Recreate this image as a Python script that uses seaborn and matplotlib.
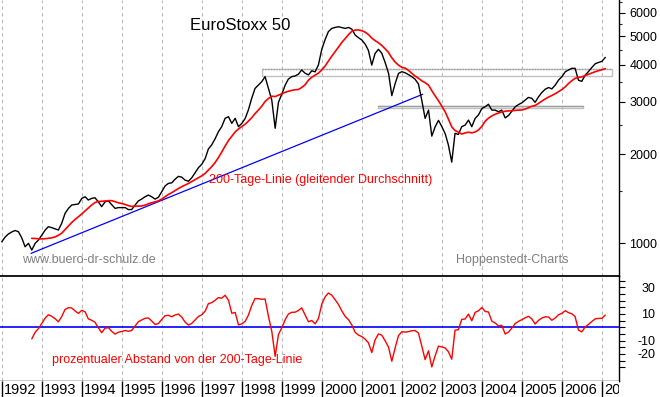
import numpy as np
import pandas as pd
import matplotlib
matplotlib.use("Agg")
import matplotlib.pyplot as plt
import matplotlib.dates as mdates
from matplotlib.patches import Rectangle
from matplotlib.ticker import FixedLocator, NullFormatter, FixedFormatter
import seaborn as sns

# monthly closes of the EuroStoxx 50, Jan 1992 .. Feb 2007
eurostoxx = [
    1012, 1050, 1075, 1092, 1105, 1095, 1045, 974, 1000, 949, 1000, 1026,
    1066, 1109, 1138, 1130, 1120, 1109, 1168, 1262, 1312, 1347, 1352, 1358,
    1418, 1436, 1400, 1418, 1425, 1380, 1330, 1380, 1390, 1350, 1312, 1320,
    1320, 1320, 1300, 1300, 1345, 1390, 1410, 1436, 1455, 1436, 1410, 1430,
    1495, 1563, 1593, 1600, 1645, 1683, 1672, 1634, 1620, 1665, 1732, 1800,
    1850, 1935, 2080, 2150, 2250, 2380, 2475, 2641, 2674, 2540, 2641, 2475,
    2540, 2641, 2815, 3085, 3330, 3420, 3510, 3650, 3330, 3045, 2445, 2990,
    3190, 3420, 3580, 3650, 3670, 3720, 3845, 3750, 3700, 3820, 3790, 4000,
    4520, 4880, 5180, 5310, 5350, 5380, 5345, 5310, 5350, 5280, 5040, 4940,
    4850, 4690, 4480, 3993, 4370, 4515, 4380, 4075, 3750, 3150, 3465, 3743,
    3794, 3760, 3710, 3650, 3580, 3450, 3045, 2640, 2815, 2300, 2475, 2600,
    2475, 2340, 2150, 1880, 2350, 2330, 2475, 2505, 2605, 2475, 2641, 2711,
    2851, 2890, 2947, 2815, 2815, 2780, 2815, 2650, 2700, 2790, 2890, 2940,
    2980, 3045, 3107, 3085, 2990, 3120, 3225, 3310, 3355, 3320, 3420, 3555,
    3650, 3794, 3841, 3895, 3895, 3550, 3520, 3690, 3800, 3920, 4035, 4076,
    4110, 4240,
]
ma_months = 10  # ~200 trading days

years = list(range(1992, 2008))
trend_dates = ["1992-09-24", "2002-07-10"]
trend_values = [925, 3183]
# resistance / support boxes: start, end, low, high
zone_upper = ["1998-07-01", "2007-04-07", 3667, 3873]
zone_lower = ["2001-05-27", "2006-07-10", 2855, 2905]

price_ticks = [1000, 2000, 3000, 4000, 5000, 6000]
price_minor = [1500, 2500, 3500, 4500, 5500, 6500]
dist_ticks = [30, 10, -10, -20]
dist_minor = list(range(-30, 40, 5))

df = pd.DataFrame({
    "date": pd.date_range("1992-01-01", periods=len(eurostoxx), freq="MS"),
    "close": eurostoxx,
})
df["ma200"] = df["close"].rolling(ma_months).mean()
df["abstand"] = (df["close"] / df["ma200"] - 1) * 100

sns.set_theme(style="white")
plt.rcParams['font.family'] = ['Liberation Sans', 'DejaVu Sans']

W, H = 660, 397
fig = plt.figure(figsize=(W / 100, H / 100), dpi=100)

def box(l, t, r, b):
    return [l / W, 1 - b / H, (r - l) / W, (b - t) / H]

ax = fig.add_axes(box(0, 0, 619, 276))
ax2 = fig.add_axes(box(0, 276, 619, 381), sharex=ax)
ax3 = fig.add_axes(box(0, 381, 619, 397), sharex=ax)

year_dates = pd.to_datetime([f"{y}-01-01" for y in years])
xlim = (pd.Timestamp("1991-12-16"), pd.Timestamp("2007-06-06"))

# ---- main panel
sns.lineplot(data=df, x="date", y="close", ax=ax, color="black", lw=1.0, zorder=4)
sns.lineplot(data=df, x="date", y="ma200", ax=ax, color="#ff0000", lw=1.2, zorder=5)
ax.plot(pd.to_datetime(trend_dates), trend_values, color="#0000ff", lw=0.9, zorder=3)

for z, top_style in [(zone_upper, (0, (1, 1))), (zone_lower, "-")]:
    x0, x1 = mdates.date2num(pd.Timestamp(z[0])), mdates.date2num(pd.Timestamp(z[1]))
    ax.add_patch(Rectangle((x0, z[2]), x1 - x0, z[3] - z[2], fill=False,
                           edgecolor="#c0c0c0", lw=1.0, zorder=2))
    ax.plot([x0, x1], [z[3], z[3]], color="#a0a0a0", lw=1.0, ls=top_style, zorder=2)

ax.set_yscale("log")
ax.set_ylim(776, 6621)
ax.set_xlim(*xlim)
ax.yaxis.tick_right()
ax.yaxis.set_major_locator(FixedLocator(price_ticks))
ax.yaxis.set_major_formatter(FixedFormatter([str(v) for v in price_ticks]))
ax.yaxis.set_minor_locator(FixedLocator(price_minor))
ax.yaxis.set_minor_formatter(NullFormatter())
ax.tick_params(axis="y", which="major", direction="out", length=4.5, width=0.8,
               pad=3, labelsize=9, colors="black", right=True, left=False)
ax.tick_params(axis="y", which="minor", direction="out", length=2.4, width=0.8,
               right=True, left=False)
ax.set_xticks(year_dates)
ax.tick_params(axis="x", length=0, labelbottom=False)
ax.grid(axis="x", color="#b8b8b8", ls=(0, (3, 3)), lw=0.8)
ax.set_xlabel("")
ax.set_ylabel("")

ax.text(0.307, 0.909, "EuroStoxx 50", transform=ax.transAxes, fontsize=12,
        ha="left", va="center", color="black")
ax.text(0.3376, 0.348, "200-Tage-Linie (gleitender Durchschnitt)", transform=ax.transAxes,
        fontsize=9, ha="left", va="center", color="#ff0000", zorder=6)
ax.text(0.0355, 0.058, "www.buero-dr-schulz.de", transform=ax.transAxes,
        fontsize=9, ha="left", va="center", color="#808080")
ax.text(0.736, 0.058, "Hoppenstedt-Charts", transform=ax.transAxes,
        fontsize=9, ha="left", va="center", color="#808080")

# ---- distance panel
sns.lineplot(data=df, x="date", y="abstand", ax=ax2, color="#ff0000", lw=1.0, zorder=4)
ax2.axhline(0, color="#0000ff", lw=1.2, zorder=3)
ax2.set_ylim(-40.3, 38.5)
ax2.yaxis.tick_right()
ax2.yaxis.set_major_locator(FixedLocator(dist_minor))
ax2.yaxis.set_major_formatter(FixedFormatter(
    [str(v) if v in dist_ticks else "" for v in dist_minor]))
ax2.tick_params(axis="y", direction="out", length=4, width=0.8, pad=22,
                labelsize=9, colors="black", right=True, left=False)
for lab in ax2.get_yticklabels():
    lab.set_horizontalalignment("right")
ax2.tick_params(axis="x", length=0, labelbottom=False)
ax2.grid(axis="x", color="#b8b8b8", ls=(0, (3, 3)), lw=0.8)
ax2.set_xlabel("")
ax2.set_ylabel("")
ax2.text(0.0845, 0.2, "prozentualer Abstand von der 200-Tage-Linie", transform=ax2.transAxes,
         fontsize=9, ha="left", va="center", color="#ff0000")

# ---- year strip
ax3.set_ylim(0, 1)
ax3.vlines(year_dates, 0, 1, color="black", lw=1.0)
for y, d in zip(years, year_dates):
    ax3.annotate(str(y), xy=(d, 0.45), xytext=(1.5, 0), textcoords="offset points",
                 ha="left", va="center", fontsize=10.5, color="black",
                 annotation_clip=False, clip_on=True)
ax3.set_yticks([])
ax3.tick_params(axis="x", length=0, labelbottom=False)
ax3.set_xlabel("")

for a in (ax, ax2, ax3):
    for side in ("left", "top"):
        a.spines[side].set_visible(False)
    for side in ("right", "bottom"):
        a.spines[side].set_color("black")
        a.spines[side].set_linewidth(1.0)
ax2.spines["top"].set_visible(True)
ax2.spines["top"].set_color("black")
ax3.spines["right"].set_visible(False)
ax3.spines["bottom"].set_visible(False)

fig.savefig("out.png", dpi=100, facecolor="white")
